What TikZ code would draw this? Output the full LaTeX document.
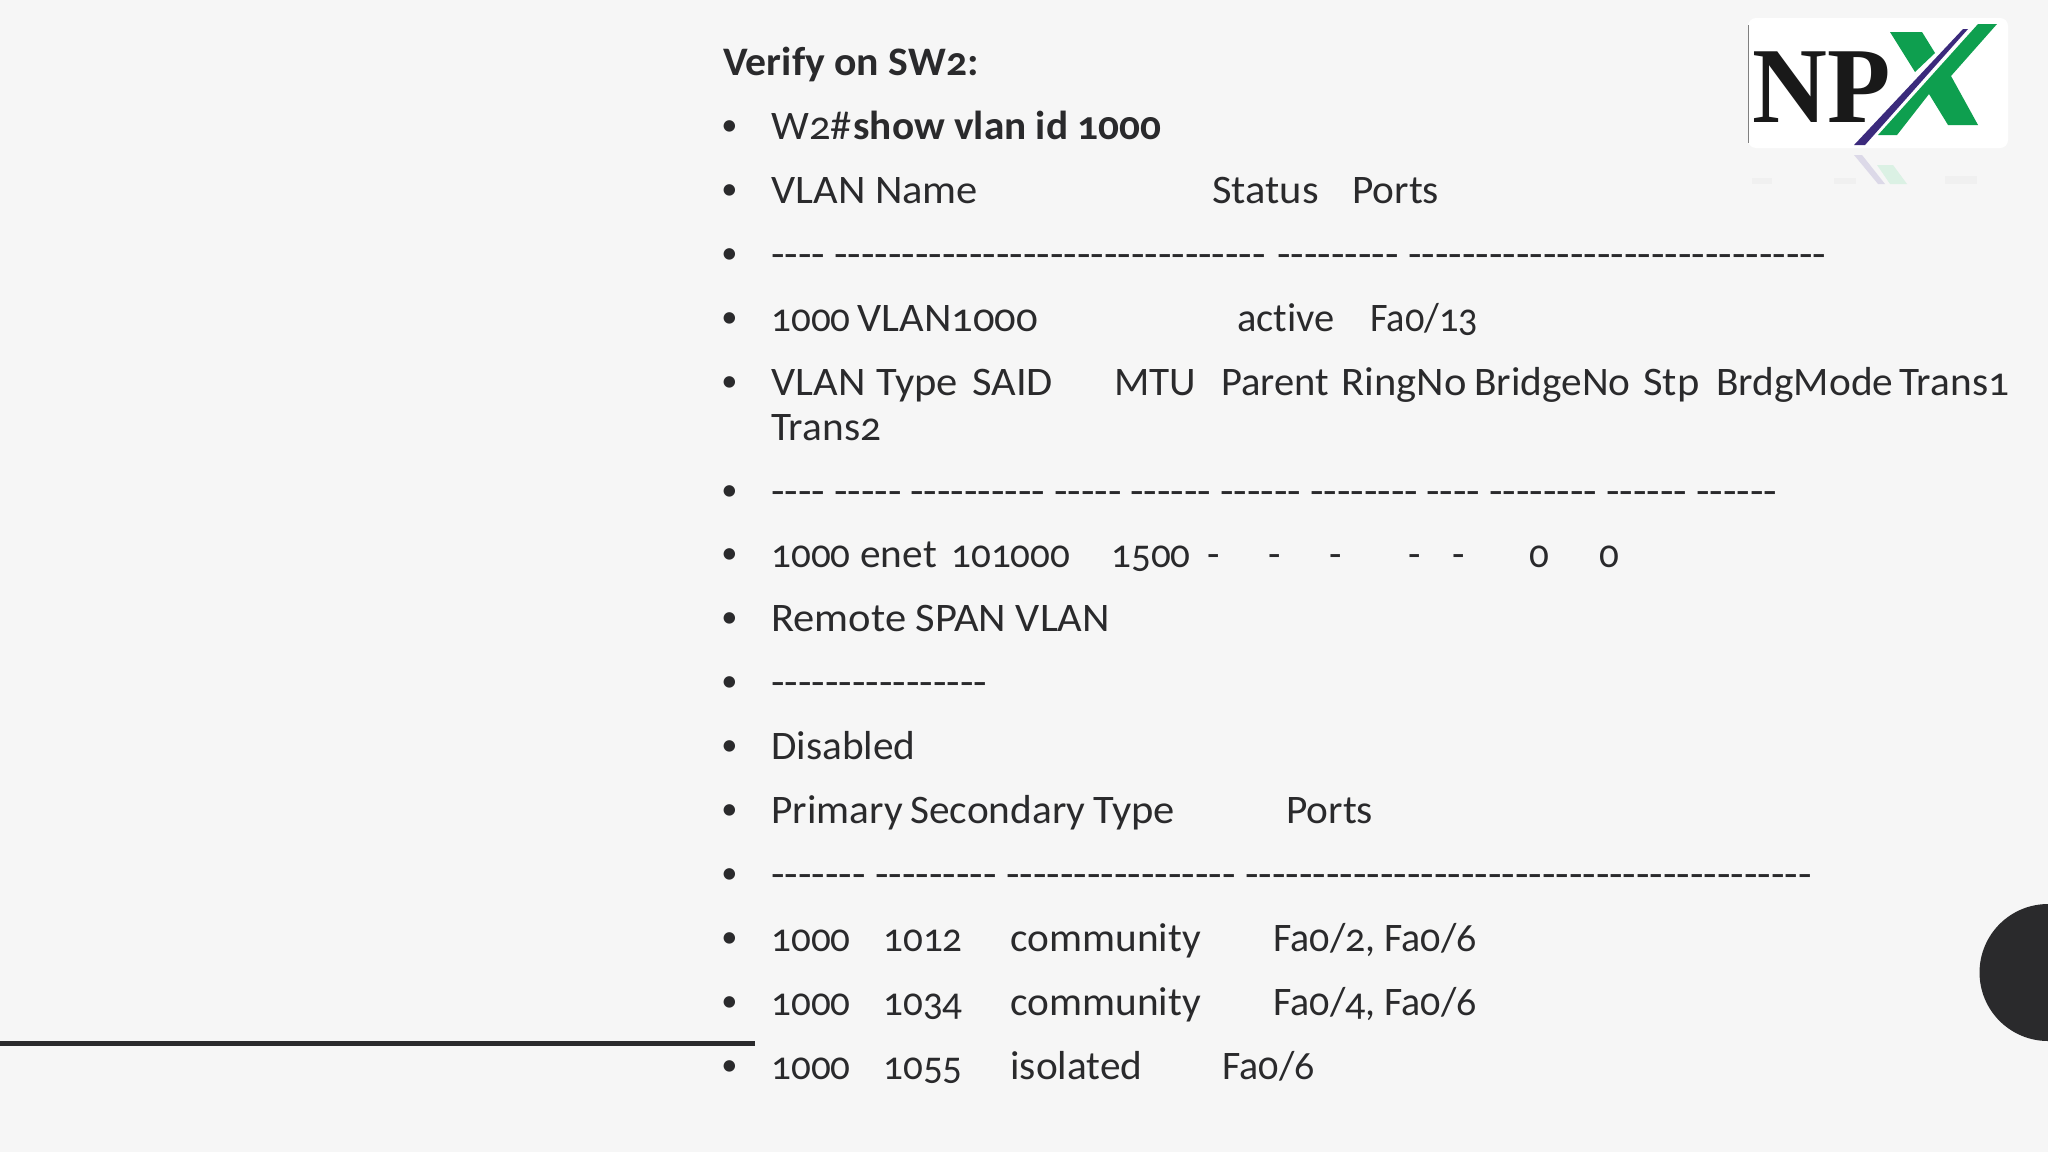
\documentclass[tikz,border=0pt]{standalone}
\usepackage{fontspec}
\setmainfont[Numbers=OldStyle, Ligatures={TeX,NoCommon}]{Carlito}
\newfontfamily\sepfont[Ligatures=TeXOff]{Carlito}
\newfontfamily\logofont{Liberation Serif}
\definecolor{slidebg}{HTML}{F6F6F6}
\definecolor{ink}{HTML}{2A2A2C}
\definecolor{npxgreen}{HTML}{0E9F4F}
\definecolor{npxpurple}{HTML}{3B2A7C}

\begin{document}
\begin{tikzpicture}[x=0.5pt, y=-0.5pt, txt/.style={anchor=base west, inner sep=0pt, text=ink, font=\fontsize{20.25}{24}\selectfont}, word/.style={txt, xscale=1.05}, tightword/.style={txt, xscale=1.02}, numeral/.style={txt, xscale=0.965}, mixed/.style={txt, xscale=0.985}, bold/.style={txt, xscale=1.03, font=\fontsize{20.25}{24}\selectfont\bfseries}, sepline/.style={txt, xscale=1.088, font=\fontsize{20.25}{24}\sepfont}]
		\path[use as bounding box, fill=slidebg] (0,0) rectangle (2048,1152);
		
		\fill[ink] (2048,904) arc[start angle=270, end angle=90, radius=68.5];
		\coordinate (ruleL) at (0,1043);
		\coordinate (ruleR) at (755,1043);
		\draw[ink, line width=2.5pt] (ruleL) -- (ruleR);
		
		\fill[white, rounded corners=4pt] (1748,18) rectangle (2008,148);
		\draw[gray, line width=0.5pt] (1748,25) -- (1748,143);
		\node[anchor=base west, inner sep=0pt, text=black!90, font=\fontsize{54}{54}\logofont\bfseries, xscale=0.96] (logoNP) at (1752,122) {NP};
		\fill[npxgreen] (1890,32) -- (1922,32) -- (1935,53) -- (1915,72) -- cycle;
		\fill[npxgreen] (1978,24) -- (1997,24) -- (1951,76) -- (1978,125) -- (1948,125) -- (1929,94) -- (1897,135) -- (1878,135) -- cycle;
		\fill[npxpurple] (1963,29) -- (1968,29) -- (1865,145) -- (1854,145) -- cycle;
		\fill[gray!12] (1752,178) rectangle (1772,184);
		\fill[gray!12] (1834,178) rectangle (1856,184);
		\fill[gray!12] (1945,176) rectangle (1977,184);
		\fill[npxpurple!18] (1854,155) -- (1862,155) -- (1885,184) -- (1878,184) -- cycle;
		\fill[npxgreen!15] (1877,165) -- (1893,165) -- (1907,184) -- (1890,184) -- cycle;
		
		\node[bold] (title) at (723,75) {Verify on SW2:};
		\foreach \y in {139,203,267,331,395,504,567,631,695,759,823,887,951,1015,1079}
			\node[txt, anchor=base, scale=0.8] (bullet\y) at (729.5,\y-4) {•};
		
		\node[word] (cmdA) at (771,139) {W2\#};
		\node[bold, xscale=0.99, anchor=base west] (cmdB) at (853,139) {show vlan id 1000};
		
		\node[word] (headName) at (771,203) {VLAN Name};
		\node[word] (headStatus) at (1212,203) {Status};
		\node[tightword] (headPorts) at (1352,203) {Ports};
		
		\node[sepline] (sepA1) at (771,267) {----};
		\node[sepline] (sepA2) at (834,267) {--------------------------------};
		\node[sepline] (sepA3) at (1277,267) {---------};
		\node[sepline] (sepA4) at (1408,267) {-------------------------------};
		
		\node[numeral] (vlanId) at (771,331) {1000};
		\node[word] (vlanName) at (857,331) {VLAN1000};
		\node[txt] (vlanStatus) at (1237,331) {active};
		\node[numeral, xscale=0.98] (vlanPort) at (1370,331) {Fa0/13};
		
		\node[word] (typeVlan) at (771,395) {VLAN};
		\node[word] (typeType) at (876,395) {Type};
		\node[word] (typeSaid) at (972,395) {SAID};
		\node[tightword] (typeMtu) at (1114,395) {MTU};
		\node[txt] (typeParent) at (1221,395) {Parent};
		\node[word] (typeRing) at (1341,395) {RingNo};
		\node[tightword] (typeBridge) at (1474,395) {BridgeNo};
		\node[word] (typeStp) at (1643,395) {Stp};
		\node[tightword] (typeMode) at (1716,395) {BrdgMode};
		\node[tightword] (typeTransA) at (1899,395) {Trans1};
		\node[tightword] (typeTransB) at (771,440) {Trans2};
		
		\node[sepline] (sepB1) at (771,504) {----};
		\node[sepline] (sepB2) at (834,504) {-----};
		\node[sepline] (sepB3) at (910,504) {----------};
		\node[sepline] (sepB4) at (1054,504) {-----};
		\node[sepline] (sepB5) at (1130,504) {------};
		\node[sepline] (sepB6) at (1220,504) {------};
		\node[sepline] (sepB7) at (1310,504) {--------};
		\node[sepline] (sepB8) at (1426,504) {----};
		\node[sepline] (sepB9) at (1489,504) {--------};
		\node[sepline] (sepB10) at (1606,504) {------};
		\node[sepline] (sepB11) at (1696,504) {------};
		
		\node[numeral] (enetId) at (771,567) {1000};
		\node[tightword] (enetType) at (860,567) {enet};
		\node[numeral] (enetSaid) at (951,567) {101000};
		\node[numeral] (enetMtu) at (1111,567) {1500};
		\node[txt] (enetA) at (1207,567) {-};
		\node[txt] (enetB) at (1268,567) {-};
		\node[txt] (enetC) at (1329,567) {-};
		\node[txt] (enetD) at (1408,567) {-};
		\node[txt] (enetE) at (1452,567) {-};
		\node[numeral] (enetF) at (1529,567) {0};
		\node[numeral] (enetG) at (1599,567) {0};
		
		\node[word] (remote) at (771,631) {Remote SPAN VLAN};
		\node[sepline] (sepC) at (771,695) {----------------};
		\node[tightword] (disabled) at (771,759) {Disabled};
		
		\node[tightword] (pvPrimary) at (771,823) {Primary};
		\node[tightword] (pvSecondary) at (910,823) {Secondary};
		\node[word] (pvType) at (1093,823) {Type};
		\node[tightword] (pvPorts) at (1286,823) {Ports};
		
		\node[sepline] (sepD1) at (771,887) {-------};
		\node[sepline] (sepD2) at (875,887) {---------};
		\node[sepline] (sepD3) at (1006,887) {-----------------};
		\node[sepline] (sepD4) at (1245,887) {------------------------------------------};
		
		\node[numeral] (rowAa) at (771,951) {1000};
		\node[numeral] (rowAb) at (883,951) {1012};
		\node[tightword] (rowAc) at (1010,951) {community};
		\node[mixed] (rowAd) at (1273,951) {Fa0/2, Fa0/6};
		
		\node[numeral] (rowBa) at (771,1015) {1000};
		\node[numeral] (rowBb) at (883,1015) {1034};
		\node[tightword] (rowBc) at (1010,1015) {community};
		\node[mixed] (rowBd) at (1273,1015) {Fa0/4, Fa0/6};
		
		\node[numeral] (rowCa) at (771,1079) {1000};
		\node[numeral] (rowCb) at (883,1079) {1055};
		\node[tightword] (rowCc) at (1010,1079) {isolated};
		\node[mixed] (rowCd) at (1222,1079) {Fa0/6};
\end{tikzpicture}
\end{document}
